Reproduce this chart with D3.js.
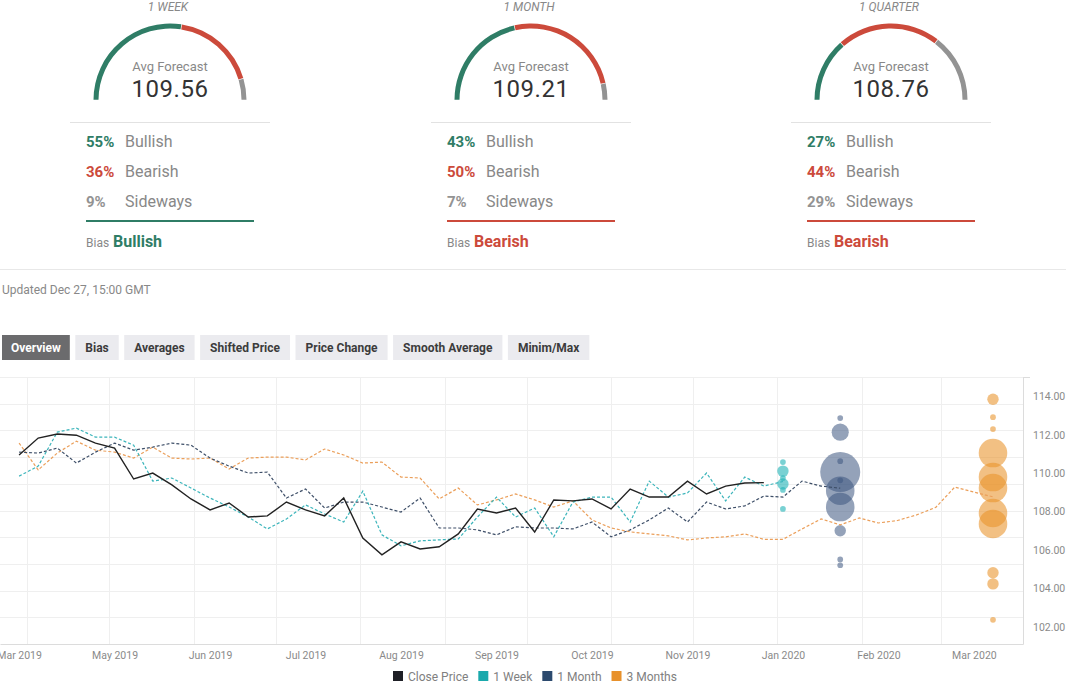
<!DOCTYPE html>
<html>
<head>
<meta charset="utf-8">
<script src="https://cdn.jsdelivr.net/npm/d3@7"></script>
<style>
  body { margin: 0; background: #fff; }
  svg { display: block; font-family: Roboto, "Open Sans", sans-serif; }
</style>
</head>
<body>
<svg id="chart"></svg>
<script>
const width = 1066;
const height = 682;

// sentiment panels
const gaugeTitles = ["1 WEEK", "1 MONTH", "1 QUARTER"];
const avgForecast = [109.56, 109.21, 108.76];
const bullishPct = [55, 43, 27];
const bearishPct = [36, 50, 44];
const sidewaysPct = [9, 7, 29];
const biasLabels = ["Bullish", "Bearish", "Bearish"];

const tabLabels = ["Overview", "Bias", "Averages", "Shifted Price", "Price Change", "Smooth Average", "Minim/Max"];

// weekly series, first point on Fri 29 Mar 2019
const startDate = new Date(2019, 2, 29);
const closePrice = [110.94, 111.82, 112.03, 111.97, 111.56, 111.30, 109.69, 110.00, 109.38, 108.65,
  108.08, 108.44, 107.71, 107.77, 108.49, 108.08, 107.77, 108.70, 106.62, 105.74,
  106.42, 106.05, 106.16, 106.83, 108.13, 107.92, 108.18, 106.93, 108.60, 108.55,
  108.65, 108.13, 109.17, 108.75, 108.75, 109.58, 108.91, 109.32, 109.48, 109.50];
const oneWeek = [109.84, 110.36, 112.13, 112.34, 111.87, 111.87, 111.45, 109.58, 109.74, 109.22,
  108.70, 108.23, 107.71, 107.09, 107.61, 108.34, 107.87, 107.45, 109.06, 106.78,
  106.21, 106.47, 106.52, 106.57, 107.71, 108.75, 107.71, 108.18, 106.68, 108.49,
  108.75, 108.75, 107.45, 109.58, 108.75, 108.96, 110.00, 108.55, 109.79, 109.32, 109.56];
const oneMonth = [111.09, 111.04, 111.30, 110.52, 111.09, 111.56, 111.19, 111.35, 111.56, 111.45,
  110.78, 110.36, 110.00, 110.05, 108.70, 109.17, 108.18, 108.49, 108.49, 108.23,
  107.97, 108.70, 107.14, 107.14, 107.04, 106.78, 107.20, 107.14, 107.14, 107.09,
  107.45, 106.68, 107.04, 107.56, 108.18, 107.45, 108.49, 108.13, 108.29, 108.80,
  108.75, 109.58, 109.32, 109.21];
const threeMonths = [111.56, 110.16, 111.04, 111.66, 111.19, 111.09, 110.78, 111.35, 110.78, 110.73,
  110.78, 110.21, 110.78, 110.83, 110.83, 110.68, 111.25, 110.94, 110.52, 110.57,
  109.79, 109.74, 108.65, 109.22, 108.34, 108.60, 108.91, 108.60, 108.23, 108.55,
  107.56, 107.14, 106.94, 106.83, 106.73, 106.52, 106.62, 106.68, 106.83, 106.55,
  106.55, 107.09, 107.61, 107.30, 107.66, 107.40, 107.53, 107.82, 108.21, 109.27,
  109.01, 108.76];

// forecast distributions (value, number of forecasts)
const weekBubbleValues = [110.57, 110.10, 109.74, 109.43, 109.12, 108.13];
const weekBubbleCounts = [1, 2, 1, 2, 1, 1];
const monthBubbleValues = [112.86, 112.13, 110.62, 110.05, 109.62, 109.08, 108.23, 107.00, 105.50, 105.20];
const monthBubbleCounts = [1, 3, 1, 7, 1, 5, 5, 2, 1, 1];
const quarterBubbleValues = [113.84, 112.91, 112.29, 111.04, 109.79, 109.22, 107.92, 107.35, 104.81, 104.23, 102.36];
const quarterBubbleCounts = [2, 1, 1, 5, 5, 5, 5, 5, 2, 2, 1];

const tickDates = ["2019-03-29", "2019-05-03", "2019-06-07", "2019-07-12", "2019-08-16", "2019-09-20",
  "2019-10-25", "2019-11-29", "2020-01-03", "2020-02-07", "2020-03-13"];
const yTicks = [102, 104, 106, 108, 110, 112, 114];

const seriesNames = ["Close Price", "1 Week", "1 Month", "3 Months"];
const legendColors = ["#1e1f26", "#1aa9ac", "#2c4a6e", "#e8912b"];

const green = "#2f7d66", red = "#cc4a3b", grey = "#939393";

const svg = d3.select("#chart")
  .attr("width", width)
  .attr("height", height);

// ---- sentiment gauges ----
const panelX = [170, 531, 891];
const pie = d3.pie().sort(null).value(d => d).startAngle(-Math.PI / 2).endAngle(Math.PI / 2).padAngle(0.006);
const arc = d3.arc().innerRadius(71.5).outerRadius(76.5);

gaugeTitles.forEach((title, i) => {
  const g = svg.append("g").attr("transform", "translate(" + panelX[i] + ",0)");

  g.append("text").attr("x", -2).attr("y", 11)
    .attr("text-anchor", "middle").attr("font-size", 12).attr("font-style", "italic")
    .attr("fill", "#888").text(title);

  g.append("g").attr("transform", "translate(0,100)")
    .selectAll("path")
    .data(pie([bullishPct[i], bearishPct[i], sidewaysPct[i]]))
    .enter().append("path")
    .attr("d", arc)
    .attr("fill", (d, j) => [green, red, grey][j]);

  g.append("text").attr("x", 0).attr("y", 70.5).attr("text-anchor", "middle")
    .attr("font-size", 13).attr("fill", "#888").text("Avg Forecast");
  g.append("text").attr("x", 0).attr("y", 96.5).attr("text-anchor", "middle")
    .attr("font-size", 24).attr("fill", "#333").attr("letter-spacing", 0.5)
    .text(d3.format(".2f")(avgForecast[i]));

  g.append("line").attr("x1", -100).attr("x2", 100).attr("y1", 122.5).attr("y2", 122.5)
    .attr("stroke", "#e2e2e2");

  const rows = [[bullishPct[i], "Bullish", green], [bearishPct[i], "Bearish", red], [sidewaysPct[i], "Sideways", grey]];
  rows.forEach((r, j) => {
    g.append("text").attr("x", -84).attr("y", 147 + j * 30)
      .attr("font-size", 15).attr("font-weight", "bold").attr("fill", r[2]).text(r[0] + "%");
    g.append("text").attr("x", -45).attr("y", 147 + j * 30)
      .attr("font-size", 16).attr("fill", "#888").text(r[1]);
  });

  const biasColor = biasLabels[i] === "Bullish" ? green : red;
  g.append("line").attr("x1", -84).attr("x2", 84).attr("y1", 221).attr("y2", 221)
    .attr("stroke", biasColor).attr("stroke-width", 2);
  g.append("text").attr("x", -84).attr("y", 247).attr("font-size", 12).attr("fill", "#888").text("Bias");
  g.append("text").attr("x", -57).attr("y", 247).attr("font-size", 16).attr("font-weight", "bold")
    .attr("fill", biasColor).text(biasLabels[i]);
});

svg.append("line").attr("x1", 0).attr("x2", width).attr("y1", 269.5).attr("y2", 269.5).attr("stroke", "#e8e8e8");
svg.append("text").attr("x", 2).attr("y", 294).attr("font-size", 12).attr("fill", "#888")
  .text("Updated Dec 27, 15:00 GMT");

// ---- tabs ----
let tabX = 2;
tabLabels.forEach((label, i) => {
  const g = svg.append("g");
  const rect = g.append("rect").attr("y", 335).attr("height", 25)
    .attr("fill", i === 0 ? "#6b6b6d" : "#ebebef");
  const t = g.append("text").attr("y", 352).attr("font-size", 12).attr("font-weight", "bold")
    .attr("text-anchor", "middle").attr("fill", i === 0 ? "#fff" : "#3c3c3c").text(label);
  const w = t.node().getComputedTextLength() + (i === 0 ? 18 : 20);
  rect.attr("x", tabX).attr("width", w);
  t.attr("x", tabX + w / 2);
  tabX += w + 5.5;
});

// ---- price chart ----
const plot = { left: 0, right: 1023, top: 377, bottom: 644 };
const weekDate = i => d3.timeDay.offset(startDate, 7 * i);

const x = d3.scaleTime()
  .domain([new Date(2019, 2, 22), new Date(2020, 2, 31)])
  .range([plot.left, plot.right]);
const y = d3.scaleLinear()
  .domain([101.1, 115])
  .range([plot.bottom, plot.top]);
const gridScale = d3.scaleLinear().domain([0, 10]).range([plot.bottom, plot.top]);

const grid = svg.append("g").attr("stroke", "#efefef");
grid.selectAll(".vgrid")
  .data(d3.timeMonth.range(new Date(2019, 3, 1), new Date(2020, 2, 2)))
  .enter().append("line")
  .attr("x1", d => Math.round(x(d)) + 0.5).attr("x2", d => Math.round(x(d)) + 0.5)
  .attr("y1", plot.top).attr("y2", plot.bottom);
grid.selectAll(".hgrid")
  .data(d3.range(1, 11))
  .enter().append("line")
  .attr("x1", plot.left).attr("x2", plot.right)
  .attr("y1", d => Math.round(gridScale(d)) + 0.5).attr("y2", d => Math.round(gridScale(d)) + 0.5);

svg.append("defs").append("clipPath").attr("id", "plotClip")
  .append("rect").attr("x", plot.left).attr("y", plot.top)
  .attr("width", plot.right - plot.left).attr("height", plot.bottom - plot.top);

const line = d3.line().x((d, i) => x(weekDate(i))).y(d => y(d));
const r = d3.scaleLinear().domain([0, 7]).range([0, 20]);

const bubbleSets = [
  { values: weekBubbleValues, counts: weekBubbleCounts, at: weekDate(oneWeek.length - 1), fill: "#1fb3b6", op: 0.6 },
  { values: monthBubbleValues, counts: monthBubbleCounts, at: weekDate(oneMonth.length - 1), fill: "#3c5680", op: 0.55 },
  { values: quarterBubbleValues, counts: quarterBubbleCounts, at: weekDate(threeMonths.length - 1), fill: "#e8922a", op: 0.58 }
];

const chart = svg.append("g").attr("clip-path", "url(#plotClip)");

bubbleSets.forEach(set => {
  chart.append("g").selectAll("circle")
    .data(set.values)
    .enter().append("circle")
    .attr("cx", x(set.at))
    .attr("cy", d => y(d))
    .attr("r", (d, i) => r(set.counts[i]))
    .attr("fill", set.fill)
    .attr("fill-opacity", set.op);
});

const lineSeries = [
  { data: threeMonths, color: "#eb9f5a", dash: "3,2", w: 1.2 },
  { data: oneMonth, color: "#3e4f68", dash: "3,2", w: 1.2 },
  { data: oneWeek, color: "#3cb5bb", dash: "3,2", w: 1.2 },
  { data: closePrice, color: "#222", dash: null, w: 1.4 }
];
lineSeries.forEach(s => {
  chart.append("path")
    .datum(s.data)
    .attr("d", line)
    .attr("fill", "none")
    .attr("stroke", s.color)
    .attr("stroke-width", s.w)
    .attr("stroke-dasharray", s.dash);
});

// axes
const xAxis = d3.axisBottom(x)
  .tickValues(tickDates.map(d3.timeParse("%Y-%m-%d")))
  .tickFormat(d3.timeFormat("%b %Y"))
  .tickSize(0).tickPadding(8);
const gx = svg.append("g").attr("transform", "translate(0," + plot.bottom + ")").call(xAxis);
gx.select(".domain").attr("stroke", "#dcdcdc");
gx.selectAll("text").attr("fill", "#8a8a8a").attr("font-size", 10.5).attr("font-family", "Roboto, sans-serif");

const yAxis = d3.axisRight(y).tickValues(yTicks).tickFormat(d3.format(".2f")).tickSize(0).tickPadding(10);
const gy = svg.append("g").attr("transform", "translate(" + plot.right + ",0)").call(yAxis);
gy.select(".domain").attr("stroke", "#dcdcdc");
gy.selectAll("text").attr("fill", "#8a8a8a").attr("font-size", 10.5).attr("font-family", "Roboto, sans-serif");
svg.append("line").attr("x1", plot.right).attr("x2", plot.right + 7)
  .attr("y1", plot.top + 0.5).attr("y2", plot.top + 0.5).attr("stroke", "#dcdcdc");
svg.append("line").attr("x1", plot.left).attr("x2", plot.right)
  .attr("y1", plot.top + 0.5).attr("y2", plot.top + 0.5).attr("stroke", "#efefef");

// legend
let legX = 393;
seriesNames.forEach((name, i) => {
  svg.append("rect").attr("x", legX).attr("y", 671).attr("width", 10).attr("height", 10)
    .attr("fill", legendColors[i]);
  const t = svg.append("text").attr("x", legX + 15).attr("y", 680.5)
    .attr("font-size", 12).attr("fill", "#808080").text(name);
  legX += 15 + t.node().getComputedTextLength() + 10;
});
</script>
</body>
</html>
